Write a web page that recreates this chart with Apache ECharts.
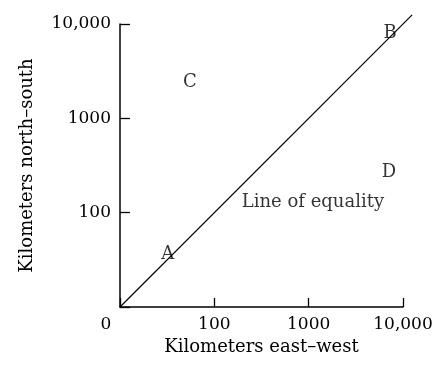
<!DOCTYPE html>
<html>
<head>
<meta charset="utf-8">
<script src="https://cdn.jsdelivr.net/npm/echarts@6/dist/echarts.min.js"></script>
<style>
  html, body { margin: 0; padding: 0; background: #fff; }
  #chart { width: 440px; height: 366px; }
</style>
</head>
<body>
<div id="chart"></div>
<script>
// Log–log plot of north–south vs east–west extent (km)
const axisMin = 10;
const axisMax = 10000;
const xTitle = 'Kilometers east\u2013west';
const yTitle = 'Kilometers north\u2013south';

// Line of equality (y = x), running a little past the top corner
const equalityLine = [[10, 10], [12500, 12500]];
const equalityText = 'Line of equality';
const equalityTextAt = [1110, 130];

// Lettered positions
const pointNames = ['A', 'B', 'C', 'D'];
const pointX = [32, 7300, 55, 7100];
const pointY = [36, 8000, 2400, 270];

const font = 'DejaVu Serif';
const ink = '#000';

// Plot box and an overlay box reaching one tenth of a decade further,
// so the equality line can run past the axis ends.
const W = 440, H = 366;
const box = { left: 120, right: 37, top: 24, bottom: 59 };
const plotW = W - box.left - box.right;
const plotH = H - box.top - box.bottom;
const overMax = Math.pow(10, 4.1);
const over = {
  left: box.left,
  right: box.right - plotW / 3 * 0.1,
  top: box.top - plotH / 3 * 0.1,
  bottom: box.bottom
};

function fmtTick(v) {
  if (v === 10) return '';
  return v >= 10000 ? v.toLocaleString('en-US') : String(v);
}

const labelStyle = {
  show: true,
  position: 'inside',
  formatter: '{b}',
  fontFamily: font,
  fontSize: 18,
  color: ink,
  textBorderWidth: 0
};

// Tick-only axes sitting on the opposite side of the box and shifted onto
// the main axis lines, so their ticks point into the plot.
function tickOnlyAxis(extra) {
  return Object.assign({
    gridIndex: 0,
    type: 'log',
    logBase: 10,
    min: axisMin,
    max: axisMax,
    axisLine: { show: false },
    axisLabel: { show: false },
    splitLine: { show: false },
    minorTick: { show: false }
  }, extra);
}

const chart = echarts.init(document.getElementById('chart'), null, { renderer: 'canvas' });

chart.setOption({
  animation: false,
  backgroundColor: '#fff',
  grid: [box, over],
  xAxis: [{
    gridIndex: 0,
    type: 'log',
    logBase: 10,
    min: axisMin,
    max: axisMax,
    name: xTitle,
    nameLocation: 'middle',
    nameGap: 29,
    nameTextStyle: { fontFamily: font, fontSize: 18, color: ink },
    axisLine: { lineStyle: { color: ink, width: 1.5 } },
    axisTick: { show: false },
    splitLine: { show: false },
    minorTick: { show: false },
    axisLabel: {
      margin: 9,
      fontFamily: font,
      fontSize: 17,
      color: ink,
      formatter: function (v) {
        if (v === 10) return '{o|0}';
        return fmtTick(v);
      },
      rich: { o: { fontFamily: font, fontSize: 17, color: ink, padding: [0, 28, 0, 0] } }
    }
  }, {
    gridIndex: 1,
    type: 'log',
    logBase: 10,
    min: axisMin,
    max: overMax,
    show: false
  }, tickOnlyAxis({
    position: 'top',
    offset: -plotH,
    axisTick: { show: true, length: 9, lineStyle: { color: ink, width: 1.3 } }
  })],
  yAxis: [{
    gridIndex: 0,
    type: 'log',
    logBase: 10,
    min: axisMin,
    max: axisMax,
    name: yTitle,
    nameLocation: 'middle',
    nameGap: 84,
    nameRotate: 90,
    nameTextStyle: { fontFamily: font, fontSize: 18, color: ink },
    axisLine: { lineStyle: { color: ink, width: 1.5 } },
    axisTick: { show: false },
    splitLine: { show: false },
    minorTick: { show: false },
    axisLabel: {
      margin: 9,
      fontFamily: font,
      fontSize: 17,
      color: ink,
      formatter: fmtTick
    }
  }, {
    gridIndex: 1,
    type: 'log',
    logBase: 10,
    min: axisMin,
    max: overMax,
    show: false
  }, tickOnlyAxis({
    position: 'right',
    offset: -plotW,
    axisTick: { show: true, length: 10, lineStyle: { color: ink, width: 1.3 } }
  })],
  series: [
    {
      type: 'line',
      xAxisIndex: 1,
      yAxisIndex: 1,
      data: equalityLine,
      clip: false,
      symbol: 'none',
      lineStyle: { color: ink, width: 1.2 },
      silent: true
    },
    {
      type: 'scatter',
      symbolSize: 0,
      clip: false,
      data: pointNames.map((n, i) => ({ name: n, value: [pointX[i], pointY[i]] })),
      label: labelStyle
    },
    {
      type: 'scatter',
      symbolSize: 0,
      data: [{ name: equalityText, value: equalityTextAt }],
      label: labelStyle
    }
  ]
});
</script>
</body>
</html>
